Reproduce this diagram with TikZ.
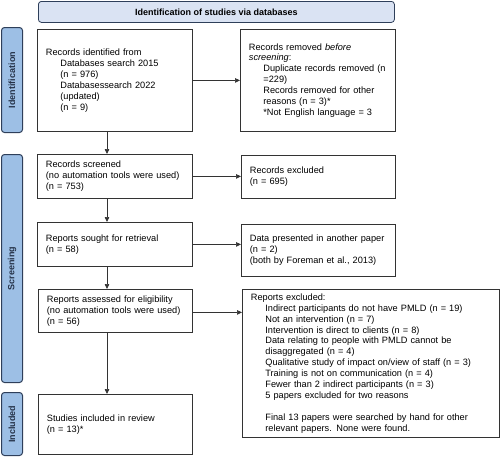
\documentclass[tikz,border=0pt]{standalone}
\usepackage{fontspec}
\setmainfont{Liberation Sans}
\usetikzlibrary{arrows.meta}
\definecolor{hdrfill}{HTML}{DAE3F3}
\definecolor{sidefill}{HTML}{9DBFE5}
\definecolor{sideline}{HTML}{2E3F5A}
\definecolor{boxline}{HTML}{333333}
\newcommand{\ind}{\hspace*{14.5pt}}
\begin{document}
\begin{tikzpicture}[x=1pt,y=-1pt,
  every node/.style={font=\fontsize{9.2}{10.9}\selectfont},
  box/.style={draw=boxline, line width=0.8pt, anchor=north west, align=left, inner xsep=8.5pt, inner ysep=0pt},
  hdr/.style={draw=sideline, line width=0.8pt, fill=hdrfill, rounded corners=3pt, anchor=north west, minimum width=356pt, minimum height=21pt, inner sep=0pt, font=\fontsize{9}{10.9}\selectfont\bfseries},
  side/.style={draw=sideline, line width=1pt, fill=sidefill, rounded corners=3pt, anchor=north west, minimum width=21pt, inner sep=0pt},
  sidetext/.style={rotate=90, text=sideline!80!black, font=\fontsize{9}{10.9}\selectfont\bfseries},
  arr/.style={draw=boxline, line width=0.7pt, -{Triangle[length=5pt,width=4.5pt]}}]
\useasboundingbox (0,0) rectangle (500,456);

\node[hdr] (hdr) at (38,1) {Identification of studies via databases};

\node[side, minimum height=105pt] (sid) at (1,27) {};
\node[sidetext] (tid) at (sid.center) {Identification};
\node[side, minimum height=228pt] (ssc) at (1,154) {};
\node[sidetext] (tsc) at (ssc.center) {Screening};
\node[side, minimum height=63pt] (sin) at (1,392) {};
\node[sidetext] (tin) at (sin.center) {Included};

\node[box, text width=138pt, minimum height=102pt] (ident) at (37,29)
 {Records identified from\\
  \ind Databases search 2015\\
  \ind (n = 976)\\
  \ind Databasessearch 2022\\
  \ind (updated)\\
  \ind (n = 9)};
\node[box, text width=138pt, minimum height=102pt] (removed) at (240,29)
 {Records removed \emph{before}\\
  \emph{screening}:\\
  \ind Duplicate records removed (n\\
  \ind =229)\\
  \ind Records removed for other\\
  \ind reasons (n = 3)*\\
  \ind *Not English language = 3};
\node[box, text width=138pt, minimum height=44pt] (screened) at (37,154)
 {Records screened\\
  (no automation tools were used)\\
  (n = 753)};
\node[box, text width=137pt, minimum height=43pt] (excluded) at (241,155)
 {Records excluded\\
  (n = 695)};
\node[box, text width=138pt, minimum height=44pt] (sought) at (37,222)
 {Reports sought for retrieval\\
  (n = 58)};
\node[box, text width=137pt, minimum height=52pt] (data) at (241,224)
 {Data presented in another paper\\
  (n = 2)\\
  (both by Foreman et al., 2013)};
\node[box, text width=137pt, minimum height=43pt] (assessed) at (38,289)
 {Reports assessed for eligibility\\
  (no automation tools were used)\\
  (n = 56)};
\node[box, text width=240pt, minimum height=148pt] (repex) at (242,289)
 {Reports excluded:\\
  \ind Indirect participants do not have PMLD (n = 19)\\
  \ind Not an intervention (n = 7)\\
  \ind Intervention is direct to clients (n = 8)\\
  \ind Data relating to people with PMLD cannot be\\
  \ind disaggregated (n = 4)\\
  \ind Qualitative study of impact on/view of staff (n = 3)\\
  \ind Training is not on communication (n = 4)\\
  \ind Fewer than 2 indirect participants (n = 3)\\
  \ind 5 papers excluded for two reasons\\[10.9pt]
  \ind Final 13 papers were searched by hand for other\\
  \ind relevant papers. None were found.};
\node[box, text width=137pt, minimum height=60pt] (included) at (38,394)
 {Studies included in review\\
  (n = 13)*};

\coordinate (vx) at (107,0);
\coordinate (ay) at ([yshift=-1.5pt]assessed.east);
\draw[arr] (ident.south -| vx) -- (screened.north -| vx);
\draw[arr] (screened.south -| vx) -- (sought.north -| vx);
\draw[arr] (sought.south -| vx) -- (assessed.north -| vx);
\draw[arr] (assessed.south -| vx) -- (included.north -| vx);

\draw[arr] (ident.east) -- (removed.west |- ident.east);
\draw[arr] (screened.east) -- (excluded.west |- screened.east);
\draw[arr] (sought.east) -- (data.west |- sought.east);
\draw[arr] (ay) -- (repex.west |- ay);
\end{tikzpicture}
\end{document}
